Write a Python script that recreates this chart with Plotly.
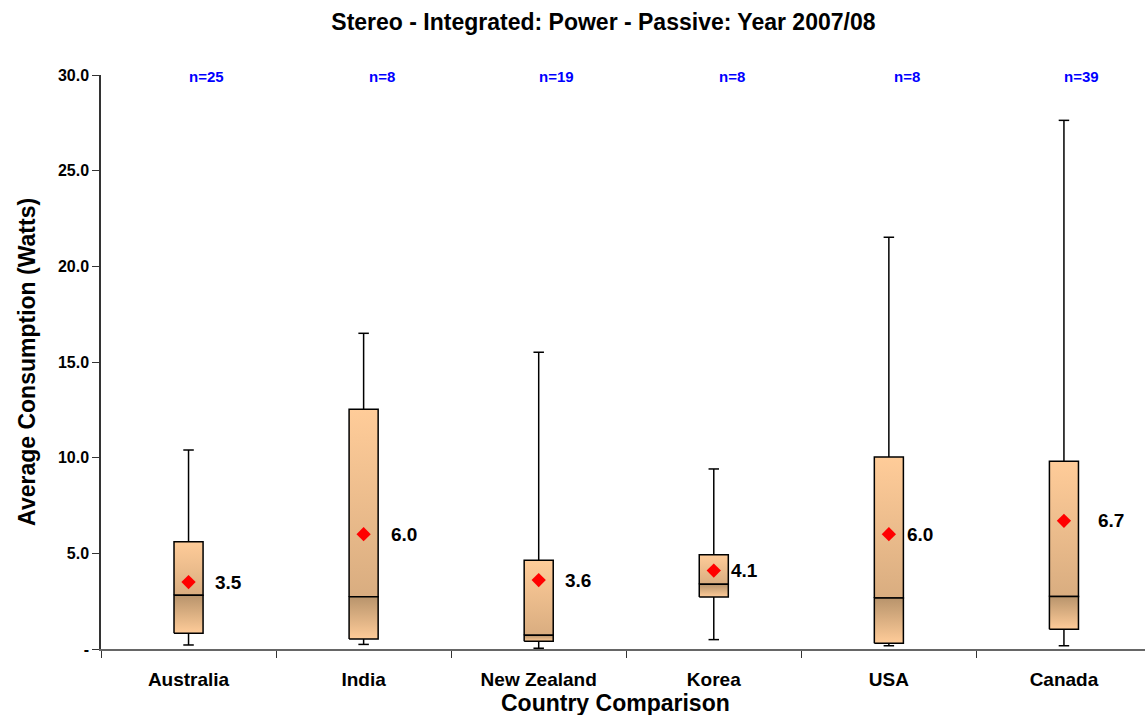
import plotly.graph_objects as go

# Box-plot statistics per country (Watts)
countries = ["Australia", "India", "New Zealand", "Korea", "USA", "Canada"]
sample_n = [25, 8, 19, 8, 8, 39]
whisker_low = [0.21, 0.24, 0.04, 0.49, 0.17, 0.17]
q1 = [0.82, 0.52, 0.40, 2.72, 0.30, 1.03]
median = [2.81, 2.73, 0.72, 3.38, 2.67, 2.75]
q3 = [5.61, 12.53, 4.64, 4.93, 10.04, 9.81]
whisker_high = [10.4, 16.5, 15.51, 9.41, 21.52, 27.63]
mean = [3.5, 6.0, 3.6, 4.1, 6.0, 6.7]

y_ticks = [0, 5, 10, 15, 20, 25, 30]
y_tick_text = ["-", "5.0", "10.0", "15.0", "20.0", "25.0", "30.0"]

# pixel offsets of the mean labels to the right of each box centre
mean_label_shift = [40, 40, 39, 31, 31, 47]

FONT = "Arial, Liberation Sans, sans-serif"
HALF_W = 0.083   # half box width in category units
CAP_W = 0.03     # half whisker-cap width

LIGHT = "#FFCC99"
MID = "#D9AD80"
DARK = "#B8946C"

fig = go.Figure()

for i, c in enumerate(countries):
    x0, x1 = i - HALF_W, i + HALF_W
    # upper half of the box: median -> Q3, dark at the bottom, light at the top
    fig.add_trace(go.Scatter(
        x=[x0, x1, x1, x0, x0], y=[median[i], median[i], q3[i], q3[i], median[i]],
        mode="lines", fill="toself",
        fillgradient=dict(type="vertical", start=median[i], stop=q3[i],
                          colorscale=[[0, MID], [1, LIGHT]]),
        line=dict(color="black", width=1.5), hoverinfo="skip", showlegend=False))
    # lower half of the box: Q1 -> median, light at the bottom, dark at the top
    fig.add_trace(go.Scatter(
        x=[x0, x1, x1, x0, x0], y=[q1[i], q1[i], median[i], median[i], q1[i]],
        mode="lines", fill="toself",
        fillgradient=dict(type="vertical", start=q1[i], stop=median[i],
                          colorscale=[[0, LIGHT], [1, DARK]]),
        line=dict(color="black", width=1.5), hoverinfo="skip", showlegend=False))
    # whiskers with caps
    fig.add_trace(go.Scatter(
        x=[i, i, None, i - CAP_W, i + CAP_W, None, i, i, None, i - CAP_W, i + CAP_W],
        y=[q3[i], whisker_high[i], None, whisker_high[i], whisker_high[i], None,
           q1[i], whisker_low[i], None, whisker_low[i], whisker_low[i]],
        mode="lines", line=dict(color="black", width=1.5),
        hoverinfo="skip", showlegend=False))

# mean markers
fig.add_trace(go.Scatter(
    x=list(range(len(countries))), y=mean, mode="markers",
    marker=dict(symbol="diamond", size=11, color="red"),
    showlegend=False))

for i, m in enumerate(mean):
    fig.add_annotation(x=i, y=m, text=f"<b>{m:.1f}</b>", showarrow=False,
                       xshift=mean_label_shift[i], xanchor="center", yanchor="middle",
                       font=dict(family=FONT, size=19, color="black"))

for i, n in enumerate(sample_n):
    fig.add_annotation(x=i, y=30, text=f"<b>n={n}</b>", showarrow=False,
                       xshift=18, yshift=-1, xanchor="center", yanchor="middle",
                       font=dict(family=FONT, size=15, color="#0000FF"))

# axis titles
fig.add_annotation(xref="paper", yref="paper", x=0.493, y=-0.094,
                   text="<b>Country Comparison</b>", showarrow=False,
                   xanchor="center", yanchor="middle",
                   font=dict(family=FONT, size=23, color="black"))
fig.add_annotation(xref="paper", yref="paper", x=-0.071, y=0.5,
                   text="<b>Average Consumption (Watts)</b>", showarrow=False,
                   textangle=-90, xanchor="center", yanchor="middle",
                   font=dict(family=FONT, size=23, color="black"))

fig.update_layout(
    width=1145, height=715,
    paper_bgcolor="white", plot_bgcolor="white",
    margin=dict(l=101, r=0, t=75, b=66),
    title=dict(text="<b>Stereo - Integrated: Power - Passive: Year 2007/08</b>",
               x=0.527, xanchor="center", y=0.97, yanchor="middle",
               font=dict(family=FONT, size=23, color="black")),
    font=dict(family=FONT, color="black"),
    xaxis=dict(
        range=[-0.5, 5.463], tickvals=list(range(len(countries))),
        ticktext=[f"<b>{c}</b>" for c in countries],
        tickfont=dict(family=FONT, size=19, color="black"),
        ticks="outside", ticklen=12, tickcolor="rgba(0,0,0,0)",
        showgrid=False, zeroline=False,
        showline=True, linecolor="#666666", linewidth=1.5,
        minor=dict(tickvals=[k - 0.5 for k in range(len(countries))],
                   ticks="outside", ticklen=7, tickcolor="#333333", tickwidth=1,
                   showgrid=False),
    ),
    yaxis=dict(
        range=[0, 30], tickvals=y_ticks,
        ticktext=[f"<b>{t}</b>" for t in y_tick_text],
        tickfont=dict(family=FONT, size=16, color="black"),
        ticks="outside", ticklen=7, tickcolor="#333333", tickwidth=1,
        showgrid=False, zeroline=False,
        showline=True, linecolor="#333333", linewidth=1.5,
    ),
)

fig.write_html("out.html")
